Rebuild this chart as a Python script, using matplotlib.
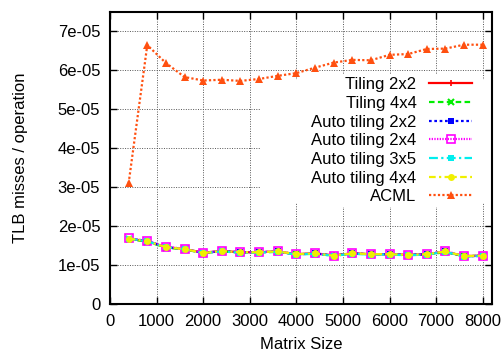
import matplotlib
matplotlib.use("Agg")
import matplotlib.pyplot as plt
from matplotlib.patches import Rectangle

plt.rcParams['font.family'] = ['Liberation Sans', 'DejaVu Sans']

sizes = [400, 800, 1200, 1600, 2000, 2400, 2800, 3200, 3600, 4000,
         4400, 4800, 5200, 5600, 6000, 6400, 6800, 7200, 7600, 8000]

tiling_2x2 = [1.68e-05, 1.61e-05, 1.46e-05, 1.41e-05, 1.32e-05, 1.36e-05, 1.33e-05, 1.33e-05, 1.35e-05, 1.28e-05,
              1.30e-05, 1.25e-05, 1.30e-05, 1.28e-05, 1.28e-05, 1.26e-05, 1.28e-05, 1.34e-05, 1.23e-05, 1.24e-05]
tiling_4x4 = [1.67e-05, 1.60e-05, 1.45e-05, 1.40e-05, 1.31e-05, 1.35e-05, 1.32e-05, 1.33e-05, 1.34e-05, 1.28e-05,
              1.29e-05, 1.24e-05, 1.29e-05, 1.28e-05, 1.27e-05, 1.26e-05, 1.27e-05, 1.33e-05, 1.23e-05, 1.24e-05]
auto_2x2 = [1.68e-05, 1.62e-05, 1.46e-05, 1.41e-05, 1.31e-05, 1.36e-05, 1.33e-05, 1.33e-05, 1.35e-05, 1.27e-05,
            1.30e-05, 1.24e-05, 1.30e-05, 1.28e-05, 1.28e-05, 1.26e-05, 1.28e-05, 1.35e-05, 1.22e-05, 1.24e-05]
auto_2x4 = [1.69e-05, 1.62e-05, 1.47e-05, 1.42e-05, 1.31e-05, 1.36e-05, 1.33e-05, 1.33e-05, 1.35e-05, 1.28e-05,
            1.30e-05, 1.24e-05, 1.30e-05, 1.28e-05, 1.28e-05, 1.26e-05, 1.28e-05, 1.36e-05, 1.23e-05, 1.24e-05]
auto_3x5 = [1.68e-05, 1.61e-05, 1.46e-05, 1.41e-05, 1.31e-05, 1.35e-05, 1.32e-05, 1.32e-05, 1.34e-05, 1.27e-05,
            1.29e-05, 1.24e-05, 1.29e-05, 1.27e-05, 1.27e-05, 1.25e-05, 1.27e-05, 1.34e-05, 1.22e-05, 1.23e-05]
auto_4x4 = [1.68e-05, 1.61e-05, 1.46e-05, 1.41e-05, 1.31e-05, 1.36e-05, 1.33e-05, 1.33e-05, 1.35e-05, 1.28e-05,
            1.30e-05, 1.24e-05, 1.30e-05, 1.28e-05, 1.28e-05, 1.26e-05, 1.28e-05, 1.35e-05, 1.23e-05, 1.24e-05]
acml = [3.10e-05, 6.65e-05, 6.19e-05, 5.83e-05, 5.74e-05, 5.76e-05, 5.73e-05, 5.78e-05, 5.86e-05, 5.93e-05,
        6.07e-05, 6.20e-05, 6.27e-05, 6.26e-05, 6.40e-05, 6.42e-05, 6.55e-05, 6.56e-05, 6.66e-05, 6.66e-05]

x_ticks = [0, 1000, 2000, 3000, 4000, 5000, 6000, 7000, 8000]
y_ticks = [0, 1e-05, 2e-05, 3e-05, 4e-05, 5e-05, 6e-05, 7e-05]
y_tick_labels = ['0', '1e-05', '2e-05', '3e-05', '4e-05', '5e-05', '6e-05', '7e-05']

fig = plt.figure(figsize=(5.02, 3.54), dpi=100)
ax = fig.add_axes([110/502, 50/354, 382/502, 292/354])

series = [
    ("Tiling 2x2", tiling_2x2, dict(color='#ff0000', linestyle='-', marker='+', markersize=5, mew=1.2)),
    ("Tiling 4x4", tiling_4x4, dict(color='#00ee00', linestyle=(0, (2.5, 1.5)), marker='x', markersize=4.5, mew=1.5)),
    ("Auto tiling 2x2", auto_2x2, dict(color='#0000ff', linestyle=(0, (1.2, 1.2)), marker='s', markersize=4.5, mew=0)),
    ("Auto tiling 2x4", auto_2x4, dict(color='#ff00ff', linestyle=(0, (0.6, 0.6)), marker='s', markersize=5.5,
                                       mfc='none', mew=1.2)),
    ("Auto tiling 3x5", auto_3x5, dict(color='#00eeee', linestyle=(0, (4, 1.5, 1, 1.5)), marker='s', markersize=4.5, mew=0)),
    ("Auto tiling 4x4", auto_4x4, dict(color='#f0f000', linestyle=(0, (3, 1.5, 1, 1.5)), marker='o', markersize=5, mew=0)),
    ("ACML", acml, dict(color='#ff5010', linestyle=(0, (1, 1)), marker='^', markersize=6, mew=0)),
]

for label, vals, style in series:
    ax.plot(sizes, vals, label=label, linewidth=1.6, **style)

ax.set_xlim(0, 8200)
ax.set_ylim(0, 7.5e-05)
ax.set_xticks(x_ticks)
ax.set_xticklabels([str(t) for t in x_ticks])
ax.set_yticks(y_ticks)
ax.set_yticklabels(y_tick_labels)
ax.tick_params(direction='in', top=True, right=True, length=5, width=1, labelsize=12, pad=7)
ax.grid(True, color='#555555', linestyle=(0, (1, 1.5)), linewidth=0.7)
ax.set_axisbelow(True)
for s in ax.spines.values():
    s.set_linewidth(1.5)

ax.set_xlabel("Matrix Size", fontsize=12, labelpad=6)
ax.set_ylabel("TLB misses / operation", fontsize=12, labelpad=21)

# opaque key area (as in gnuplot)
ax.add_patch(Rectangle((150/382, 101/292), 232/382, 123/292, transform=ax.transAxes,
                       facecolor='white', edgecolor='none', zorder=1))

leg = ax.legend(loc='upper right', bbox_to_anchor=(0.955, 0.785), fontsize=12, markerfirst=False,
                frameon=True, fancybox=False, framealpha=1, edgecolor='none', facecolor='white',
                handlelength=2.6, handletextpad=0.75, labelspacing=0.22, borderpad=0.15, borderaxespad=0)
for t in leg.get_texts():
    t.set_ha('right')
leg.set_zorder(5)

fig.savefig("out.png", dpi=100)
